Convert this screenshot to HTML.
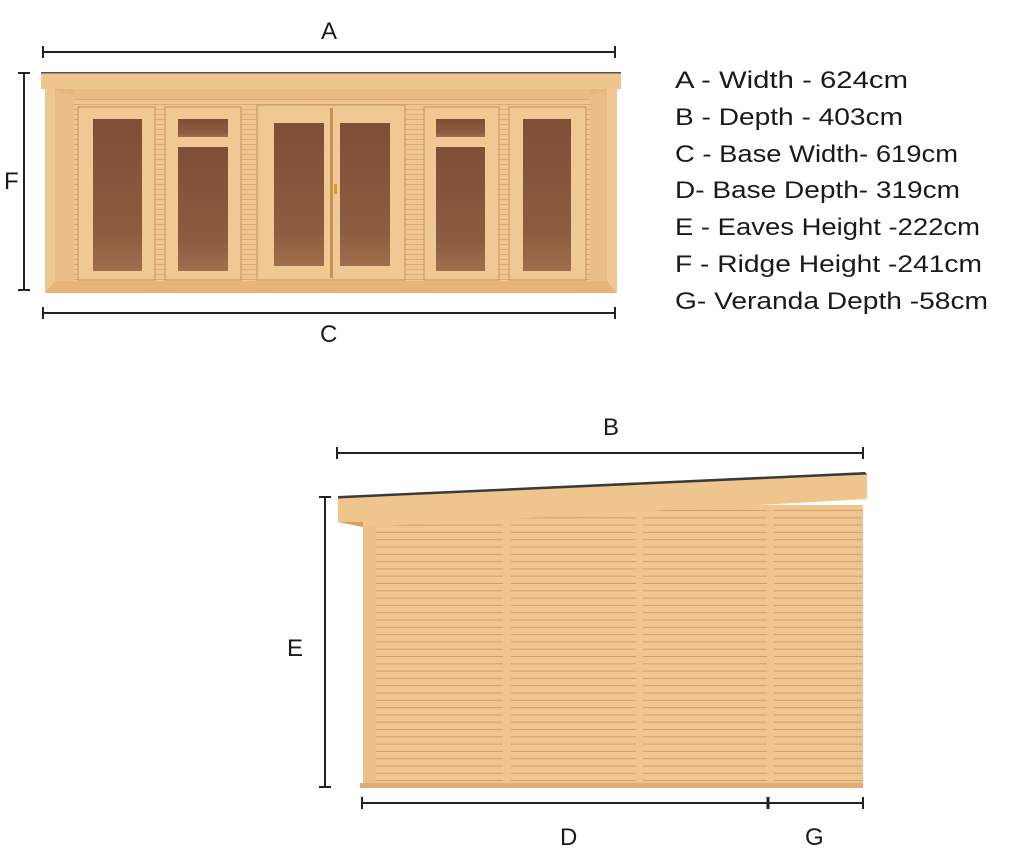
<!DOCTYPE html>
<html><head><meta charset="utf-8"><style>
html,body{margin:0;padding:0;background:#fff;}
svg{display:block;}
text{font-family:"Liberation Sans",sans-serif;fill:#1a1a1a;}
</style></head><body>
<svg width="1012" height="868" viewBox="0 0 1012 868" xmlns="http://www.w3.org/2000/svg">
<defs>
<pattern id="pl" width="20" height="7.3" patternUnits="userSpaceOnUse">
<rect width="20" height="7.3" fill="#efc690"/>
<rect y="6.3" width="20" height="1" fill="#d3a06a"/>
</pattern>
<pattern id="pf" width="20" height="5" patternUnits="userSpaceOnUse">
<rect width="20" height="5" fill="#efc691"/>
<rect y="4.2" width="20" height="0.8" fill="#d8a46c"/>
</pattern>
<linearGradient id="gl" x1="0" y1="0" x2="0" y2="1">
<stop offset="0" stop-color="#7e4f36"/><stop offset="0.75" stop-color="#8d5c40"/><stop offset="1" stop-color="#a06e4c"/>
</linearGradient>
</defs>

<!-- dimension lines -->
<g stroke="#222" stroke-width="2" fill="none">
<line x1="43" y1="52" x2="615" y2="52"/><line x1="43" y1="46" x2="43" y2="58"/><line x1="615" y1="46" x2="615" y2="58"/>
<line x1="43" y1="313" x2="615" y2="313"/><line x1="43" y1="307" x2="43" y2="319"/><line x1="615" y1="307" x2="615" y2="319"/>
<line x1="24" y1="73" x2="24" y2="290"/><line x1="18" y1="73" x2="30" y2="73"/><line x1="18" y1="290" x2="30" y2="290"/>
<line x1="337" y1="453" x2="863" y2="453"/><line x1="337" y1="447" x2="337" y2="459"/><line x1="863" y1="447" x2="863" y2="459"/>
<line x1="325" y1="497" x2="325" y2="787"/><line x1="319" y1="497" x2="331" y2="497"/><line x1="319" y1="787" x2="331" y2="787"/>
<line x1="362" y1="803" x2="863" y2="803"/><line x1="362" y1="797" x2="362" y2="809"/><line x1="863" y1="797" x2="863" y2="809"/>
<line x1="768" y1="797" x2="768" y2="809" stroke-width="3"/>
</g>
<g font-size="24">
<text x="321" y="39">A</text>
<text x="320" y="342">C</text>
<text x="4" y="189">F</text>
<text x="603" y="435">B</text>
<text x="287" y="656">E</text>
<text x="560" y="845">D</text>
<text x="805" y="845">G</text>
</g>

<!-- front view -->
<rect x="45" y="88" width="572" height="205" fill="#e6b57c"/>
<rect x="74" y="89" width="516" height="192" fill="url(#pf)"/>
<polygon points="45,88 74,95 74,281 45,293" fill="#e8bd86"/>
<polygon points="617,88 590,95 590,281 617,293" fill="#e8bd86"/>
<rect x="45" y="88" width="10" height="205" fill="#efc791"/>
<rect x="607" y="88" width="10" height="205" fill="#efc791"/>
<polygon points="55,281 607,281 617,293 45,293" fill="#e7b47a"/>
<rect x="41" y="72" width="580" height="17" fill="#efc58e"/>
<rect x="41" y="72" width="580" height="1.5" fill="#555"/>
<rect x="74" y="89" width="516" height="10" fill="#e9bc84"/>
<g fill="#efc894" stroke="#c8915a" stroke-width="1">
<rect x="78" y="107" width="77" height="173"/>
<rect x="165" y="107" width="76" height="173"/>
<rect x="257" y="105" width="148" height="175"/>
<rect x="424" y="107" width="75" height="173"/>
<rect x="509" y="107" width="77" height="173"/>
</g>
<g fill="url(#gl)">
<rect x="93" y="119" width="49" height="152"/>
<rect x="178" y="119" width="50" height="18"/>
<rect x="178" y="147" width="50" height="124"/>
<rect x="274" y="123" width="50" height="143"/>
<rect x="340" y="123" width="50" height="143"/>
<rect x="436" y="119" width="49" height="18"/>
<rect x="436" y="147" width="49" height="124"/>
<rect x="523" y="119" width="48" height="152"/>
</g>
<rect x="330" y="108" width="3" height="170" fill="#c8915a"/>
<rect x="334" y="184" width="3" height="10" fill="#d4a020"/>

<!-- side view -->
<rect x="363" y="505" width="500" height="281" fill="url(#pl)"/>
<rect x="363" y="522" width="13" height="264" fill="#ebc08a"/>
<rect x="503" y="505" width="8" height="281" fill="#eec590"/>
<rect x="636" y="505" width="7" height="281" fill="#eec590"/>
<rect x="767" y="505" width="7" height="281" fill="#eec590"/>
<rect x="360" y="783" width="503" height="5" fill="#e2ad72"/>
<polygon points="338,497 867,473 867,499 363,527 338,522" fill="#efc58e"/>
<polygon points="338,522 363,522 363,527" fill="#d89e62"/>
<polygon points="338,496 865,472 867,474.5 338,498.5" fill="#3a3a3a"/>

<!-- legend -->
<g font-size="24">
<text x="675" y="88" textLength="233" lengthAdjust="spacingAndGlyphs">A - Width -  624cm</text>
<text x="675" y="125" textLength="228" lengthAdjust="spacingAndGlyphs">B - Depth - 403cm</text>
<text x="675" y="162" textLength="283" lengthAdjust="spacingAndGlyphs">C - Base Width- 619cm</text>
<text x="675" y="198" textLength="285" lengthAdjust="spacingAndGlyphs">D- Base Depth- 319cm</text>
<text x="675" y="235" textLength="305" lengthAdjust="spacingAndGlyphs">E - Eaves Height -222cm</text>
<text x="675" y="272" textLength="307" lengthAdjust="spacingAndGlyphs">F - Ridge Height -241cm</text>
<text x="675" y="309" textLength="313" lengthAdjust="spacingAndGlyphs">G- Veranda Depth -58cm</text>
</g>
</svg>
</body></html>
